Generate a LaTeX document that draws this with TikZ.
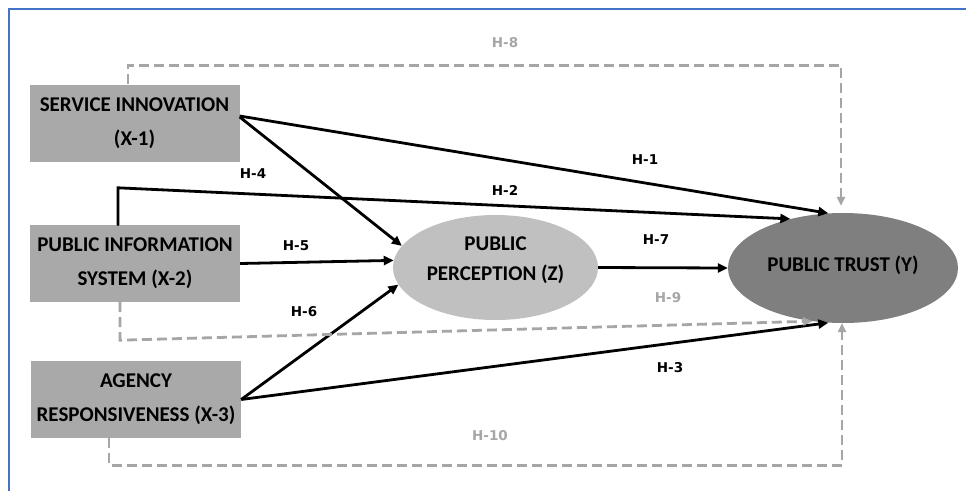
\documentclass[tikz,border=0pt]{standalone}
\usepackage{fontspec}
\setmainfont{Carlito}
\newfontfamily\hfont{DejaVu Sans}
\usetikzlibrary{arrows.meta,calc,shapes.geometric}
\definecolor{frameblue}{HTML}{4472C4}
\definecolor{boxgray}{HTML}{A9A9A9}
\definecolor{ppgray}{HTML}{C0C0C0}
\definecolor{ptgray}{HTML}{7F7F7F}
\definecolor{dashgray}{HTML}{A6A6A6}
\begin{document}
\begin{tikzpicture}[x=1pt,y=-1pt,
  boxnode/.style={fill=boxgray,minimum width=210pt,minimum height=77pt,align=center,
    font=\fontsize{21}{34}\selectfont\bfseries,inner sep=0pt},
  txt/.style={align=center,font=\fontsize{21}{30}\selectfont\bfseries,inner sep=0pt},
  solidarrow/.style={line width=2.8pt,-{Triangle[length=10pt,width=9pt]}},
  dasharrow/.style={line width=2.8pt,dashgray,dash pattern=on 10pt off 5pt,-{Triangle[length=9pt,width=8pt]}},
  hlab/.style={font=\hfont\fontsize{13.5}{16}\selectfont\bfseries,inner sep=0pt},
  hgray/.style={hlab,text=dashgray}]
\useasboundingbox (0,0) rectangle (966,491);
\fill[white] (0,0) rectangle (966,491);
\draw[frameblue,line width=1.5pt] (9,491) -- (9,9) -- (966,9);

\node[boxnode] (si) at (134.5,123) {SERVICE INNOVATION\\(X-1)};
\node[boxnode] (pis) at (135,263.5) {PUBLIC INFORMATION\\SYSTEM (X-2)};
\node[boxnode] (ar) at (136,399.5) {AGENCY\\RESPONSIVENESS (X-3)};
\node[ellipse,fill=ppgray,minimum width=205pt,minimum height=105pt,inner sep=0pt] (pp) at (495.5,267.5) {};
\node[txt] (ppt) at (495.5,260) {PUBLIC\\PERCEPTION (Z)};
\node[ellipse,fill=ptgray,minimum width=230pt,minimum height=110pt,inner sep=0pt] (pt) at (843,268) {};
\node[txt] (ptt) at (843,265) {PUBLIC TRUST (Y)};

% solid arrows
\draw[solidarrow] ($(si.east)+(0,-7)$) -- (pt.105);
\draw[solidarrow] ($(si.east)+(0,-6)$) -- (pp.167);
\draw[solidarrow,line cap=round] ($(pis.north)+(-17,0)$) -- ++(0,-37) -- (pt.137);
\draw[solidarrow] (pis.east) -- (pp.176);
\draw[solidarrow] (ar.east) -- (pp.190);
\draw[solidarrow] (ar.east) -- (pt.255);
\draw[solidarrow] (pp.east) -- (pt.west);

% dashed arrows
\draw[dasharrow,shorten >=7pt] ($(si.north)+(-6.5,0)$) -- ++(0,-19) -| ($(pt.north)+(-2,0)$);
\draw[dasharrow] ($(pis.south)+(-15,0)$) -- ++(0,38) -- (pt.240);
\draw[dasharrow] ($(ar.south)+(-27,0)$) -- ++(0,27) -| ($(pt.south)+(-1,0)$);

% labels
\node[hgray] (l8) at (505,43) {H-8};
\node[hlab] (l1) at (645,160) {H-1};
\node[hlab] (l4) at (253,174) {H-4};
\node[hlab] (l2) at (505,190) {H-2};
\node[hlab] (l5) at (296,246) {H-5};
\node[hlab] (l7) at (656,240) {H-7};
\node[hlab] (l6) at (304,312) {H-6};
\node[hgray] (l9) at (668,298) {H-9};
\node[hlab] (l3) at (670,368) {H-3};
\node[hgray] (l10) at (490,436) {H-10};
\end{tikzpicture}
\end{document}
